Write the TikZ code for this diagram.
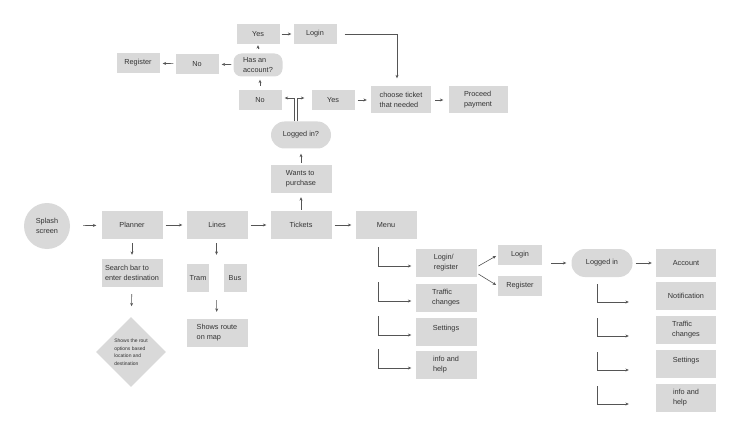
\documentclass[tikz,border=0pt]{standalone}
\usepackage{fontspec}
\setmainfont{Liberation Sans}
\usepackage{xcolor}
\usepackage{tikz}
\usetikzlibrary{arrows.meta, positioning, shapes.geometric, calc}

\definecolor{boxgray}{HTML}{D9D9D9}
\definecolor{txtgray}{HTML}{333333}
\definecolor{linegray}{HTML}{555555}

\begin{document}
\begin{tikzpicture}[x=1pt, y=-1pt,
    box/.style={fill=boxgray, text=txtgray, minimum width=61pt, minimum height=28pt,
        inner sep=0pt, align=left, font=\fontsize{7.3}{10}\selectfont},
    smallbox/.style={box, minimum width=43pt, minimum height=20pt},
    pill/.style={box, rounded corners=13.5pt},
    raised/.style={text depth=9pt},
    arr/.style={-{Stealth[length=3.4pt, width=3pt]}, draw=linegray, line width=0.6pt,
        shorten <=3pt, shorten >=4pt}]
    \useasboundingbox (0,0) rectangle (750,425);

    % Main row
    \node[circle, fill=boxgray, text=txtgray, minimum size=46pt, inner sep=0pt, align=center,
        font=\fontsize{7.3}{10}\selectfont] (splash) at (47,226) {Splash\\screen};
    \node[box] (planner) at (132,225) {Planner};
    \node[box] (lines) at (217,225) {Lines};
    \node[box] (tickets) at (301,225) {Tickets};
    \node[box] (menu) at (386,225) {Menu};

    % Planner and lines branches
    \node[box] (search) at (132,273) {Search bar to\\enter destination};
    \node[diamond, fill=boxgray, text=txtgray, minimum width=70pt, minimum height=70pt,
        inner sep=0pt, align=left, font=\fontsize{5}{7.5}\selectfont] (routes) at (131,352)
        {Shows the rout\\options based\\location and\\destination};
    \node[box, minimum width=22pt] (tram) at (198,278) {Tram};
    \node[box, minimum width=23pt] (bus) at (235,278) {Bus};
    \node[box] (route) at (217,333) {Shows route\\on map};

    % Ticket purchase
    \node[box] (wants) at (301,179) {Wants to\\purchase};
    \node[pill, minimum width=60pt, minimum height=27pt] (loggedq) at (301,135) {Logged in?};
    \node[smallbox] (nolow) at (260,100) {No};
    \node[smallbox] (yeslow) at (333,100) {Yes};
    \node[box, minimum width=60pt, minimum height=27pt] (choose) at (401,100) {choose ticket\\that needed};
    \node[box, minimum width=59pt, minimum height=27pt] (payment) at (478,100) {Proceed\\payment};
    \node[smallbox, minimum width=49pt, minimum height=23pt, rounded corners=8pt] (hasacc) at (258,65) {Has an\\account?};
    \node[smallbox] (yestop) at (258,34) {Yes};
    \node[smallbox] (logintop) at (315,34) {Login};
    \node[smallbox] (nomid) at (197,64) {No};
    \node[smallbox] (register) at (138,63) {Register};

    % Menu column
    \node[box] (logreg) at (446,263) {Login/\\register};
    \node[box] (traffic) at (446,298) {Traffic\\changes};
    \node[box, raised] (settings) at (446,332) {Settings};
    \node[box] (info) at (446,365) {info and\\help};
    \node[smallbox, minimum width=44pt] (loginr) at (520,255) {Login};
    \node[smallbox, minimum width=44pt] (registerr) at (520,286) {Register};
    \node[pill] (loggedin) at (602,263) {Logged in};

    % Logged in column
    \node[box, minimum width=60pt] (account) at (686,263) {Account};
    \node[box, minimum width=60pt] (notif) at (686,296) {Notification};
    \node[box, minimum width=60pt] (traffic2) at (686,330) {Traffic\\changes};
    \node[box, minimum width=60pt, raised] (settings2) at (686,364) {Settings};
    \node[box, minimum width=60pt] (info2) at (686,398) {info and\\help};

    % Main row arrows
    \draw[arr, shorten <=13pt, shorten >=5pt] (splash) -- (planner);
    \draw[arr] (planner) -- (lines);
    \draw[arr] (lines) -- (tickets);
    \draw[arr] (tickets) -- (menu);
    \draw[arr, shorten <=4pt] (planner) -- (search);
    \draw[arr, shorten <=7pt, shorten >=11pt] (search) -- (routes);
    \coordinate (tbtop) at ($(tram.north)!0.5!(bus.north)$);
    \coordinate (tbbot) at ($(tram.south)!0.5!(bus.south)$);
    \draw[arr, shorten <=4pt, shorten >=9pt] (lines.south -| tbtop) -- (tbtop);
    \draw[arr, shorten <=8pt, shorten >=7pt] (tbbot) -- (route);

    % Ticket arrows
    \draw[arr, shorten <=1pt] (tickets) -- (wants);
    \draw[arr, shorten <=2pt, shorten >=5pt] (wants) -- (loggedq);
    \draw[arr, shorten <=0pt, shorten >=3pt] ([xshift=-7pt]loggedq.north) |- ([yshift=2pt]nolow.east);
    \draw[arr, shorten <=0pt, shorten >=7pt] ([xshift=-4pt]loggedq.north) |- ([yshift=2pt]yeslow.west);
    \draw[arr, shorten <=4pt, shorten >=3pt] (nolow.north) -- (nolow.north |- hasacc.south);
    \draw[arr, shorten <=4pt, shorten >=1pt] (hasacc) -- (yestop);
    \draw[arr, shorten <=2pt, shorten >=3pt] (hasacc) -- (nomid);
    \draw[arr, shorten <=2pt, shorten >=3pt] (nomid) -- (register);
    \draw[arr, shorten <=2pt, shorten >=2pt] (yestop) -- (logintop);
    \draw[arr, shorten <=8pt, shorten >=8pt] (logintop.east) -| ([xshift=-4pt]choose.north);
    \draw[arr] (yeslow) -- (choose);
    \draw[arr, shorten <=4pt, shorten >=5pt] (choose) -- (payment);

    % Menu arrows
    \foreach \n in {logreg, traffic, settings, info} {
        \coordinate (\n-in) at ([shift={(-37pt,16pt)}]\n.west);
        \draw[arr, shorten <=0pt] (\n-in) |- ([yshift=-3pt]\n.west);
    }
    \draw[arr, shorten <=2pt, shorten >=2pt] ([yshift=-4pt]logreg.east) -- (loginr.west);
    \draw[arr, shorten <=2pt, shorten >=2pt] ([yshift=-10pt]logreg.east) -- (registerr.west);
    \draw[arr, shorten <=9pt, shorten >=5pt] (loginr.east |- loggedin.west) -- (loggedin.west);
    \draw[arr] (loggedin) -- (account);

    % Logged in arrows
    \foreach \n in {notif, traffic2, settings2, info2} {
        \coordinate (\n-in) at ([shift={(-59pt,12pt)}]\n.west);
        \draw[arr, shorten <=0pt, shorten >=27pt] (\n-in) |- ([yshift=-6pt]\n.west);
    }
\end{tikzpicture}
\end{document}
